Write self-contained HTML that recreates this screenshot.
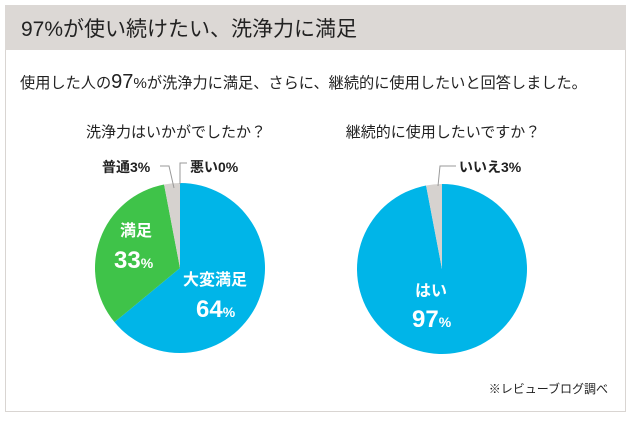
<!DOCTYPE html>
<html><head><meta charset="utf-8"><style>
body{margin:0;width:631px;height:417px;background:#fff;font-family:"Liberation Sans","Noto Sans CJK JP",sans-serif;overflow:hidden}
</style></head><body>
<svg width="631" height="417" viewBox="0 0 631 417" style="font-family:'Liberation Sans','Noto Sans CJK JP',sans-serif">
<rect x="5.5" y="5.5" width="620" height="406" fill="#fff" stroke="#d9d5d2"/>
<rect x="5" y="5" width="621" height="45" fill="#dcd8d5"/>
<text x="21" y="36" font-size="21" fill="#222">97%が使い続けたい、洗浄力に満足</text>
<text x="20" y="88" font-size="15.2" fill="#222">使用した人の<tspan font-size="20">97</tspan>%が洗浄力に満足、さらに、継続的に使用したいと回答しました。</text>
<text x="176" y="137" font-size="15" fill="#222" text-anchor="middle">洗浄力はいかがでしたか？</text>
<text x="443" y="137" font-size="15" fill="#222" text-anchor="middle">継続的に使用したいですか？</text>
<g id="p1"></g>
<g id="p2"></g>
<polyline points="160,166 169,166 174,188" fill="none" stroke="#999"/>
<polyline points="187,163 180,163 180,184" fill="none" stroke="#999"/>
<polyline points="456,166 440,166 438,186" fill="none" stroke="#999"/>
<text x="102" y="172" font-size="14" font-weight="bold" fill="#222">普通3%</text>
<text x="190" y="172" font-size="14" font-weight="bold" fill="#222">悪い0%</text>
<text x="459" y="172" font-size="14" font-weight="bold" fill="#222">いいえ3%</text>
<text x="120" y="236" font-size="16" font-weight="bold" fill="#fff">満足</text>
<text x="114" y="268" font-size="24" font-weight="bold" fill="#fff">33<tspan font-size="14">%</tspan></text>
<text x="183" y="285" font-size="16" font-weight="bold" fill="#fff">大変満足</text>
<text x="196" y="317" font-size="24" font-weight="bold" fill="#fff">64<tspan font-size="14">%</tspan></text>
<text x="415" y="296" font-size="16" font-weight="bold" fill="#fff">はい</text>
<text x="412" y="327" font-size="24" font-weight="bold" fill="#fff">97<tspan font-size="14">%</tspan></text>
<text x="608" y="393" font-size="12" fill="#222" text-anchor="end">※レビューブログ調べ</text>
</svg>
<script>
const pie1Cats=["大変満足","満足","普通","悪い"];
const pie1Vals=[64,33,3,0];
const pie2Cats=["はい","いいえ"];
const pie2Vals=[97,3];
const pie1Colors=["#00b5e8","#3fc349","#d6d2cf","#d6d2cf"];
const pie2Colors=["#00b5e8","#d6d2cf"];
function draw(id,vals,cols,cx,cy,r){
  const g=document.getElementById(id);
  const tot=vals.reduce((a,b)=>a+b,0);let a0=0;
  vals.forEach((v,i)=>{
    if(v<=0)return;
    const a1=a0+v/tot*2*Math.PI;
    const x0=cx+r*Math.sin(a0),y0=cy-r*Math.cos(a0),x1=cx+r*Math.sin(a1),y1=cy-r*Math.cos(a1);
    const p=document.createElementNS("http://www.w3.org/2000/svg","path");
    p.setAttribute("d",`M${cx},${cy}L${x0},${y0}A${r},${r} 0 ${a1-a0>Math.PI?1:0} 1 ${x1},${y1}Z`);
    p.setAttribute("fill",cols[i]);
    
    
    g.appendChild(p);a0=a1;
  });
}
draw("p1",pie1Vals,pie1Colors,180,268,85);
draw("p2",pie2Vals,pie2Colors,442,269,85);
</script>
</body></html>
